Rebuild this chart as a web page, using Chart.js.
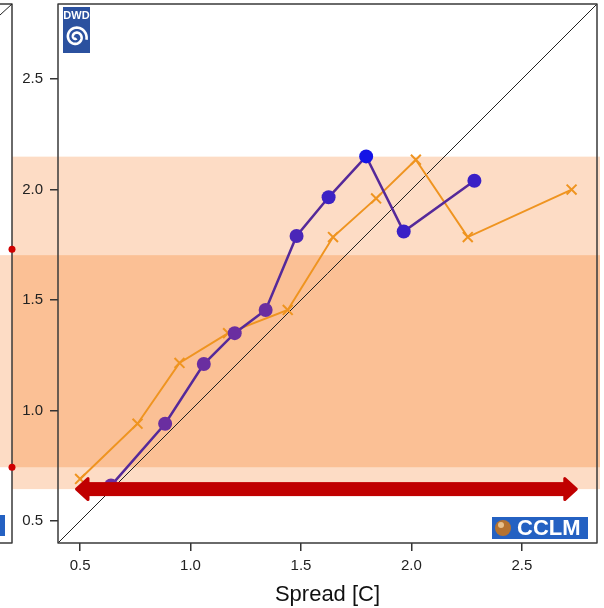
<!DOCTYPE html>
<html>
<head>
<meta charset="utf-8">
<script src="https://cdn.jsdelivr.net/npm/chart.js@4"></script>
<style>
html, body { margin: 0; padding: 0; background: #fff; }
#wrap { width: 604px; height: 608px; }
</style>
</head>
<body>
<div id="wrap"><canvas id="chart" width="604" height="608"></canvas></div>
<script>
// tick values
const xTicks = [0.5, 1.0, 1.5, 2.0, 2.5];
const yTicks = [0.5, 1.0, 1.5, 2.0, 2.5];
const axisRange = [0.4, 2.84];

// ensemble: spread vs error (circles)
const cclmSpread = [0.64, 0.885, 1.06, 1.20, 1.34, 1.48, 1.625, 1.795, 1.965, 2.285];
const cclmError  = [0.66, 0.94, 1.21, 1.35, 1.455, 1.79, 1.965, 2.15, 1.81, 2.04];

// second ensemble (crosses)
const refSpread = [0.50, 0.76, 0.95, 1.17, 1.44, 1.645, 1.84, 2.02, 2.255, 2.725];
const refError  = [0.69, 0.94, 1.215, 1.35, 1.455, 1.785, 1.96, 2.135, 1.785, 2.0];

// shaded ranges, arrow and side panel markers
const outerBand = [0.644, 2.149];
const innerBand = [0.743, 1.703];
const arrowRange = [0.477, 2.753];
const arrowLevel = 0.644;
const sideDots = [1.73, 0.743];

const pointColors = ['#6a2ea0', '#6a2ea0', '#6a2ea0', '#6a2ea0', '#6a2ea0',
                     '#4a26b8', '#3c22c4', '#1414e6', '#3a20c6', '#3a20c6'];

const toPoints = (xs, ys) => xs.map((x, i) => ({ x: x, y: ys[i] }));

const decor = {
    id: 'decor',
    beforeDraw(chart) {
        const { ctx, chartArea: a, scales: { y } } = chart;
        const panelRight = a.left - 46;
        ctx.save();
        // left panel band
        let t = y.getPixelForValue(innerBand[1]), b = y.getPixelForValue(innerBand[0]);
        ctx.fillStyle = '#fddcc5';
        ctx.fillRect(0, t, panelRight, b - t);
        // main bands
        t = y.getPixelForValue(outerBand[1]); b = y.getPixelForValue(outerBand[0]);
        ctx.fillStyle = '#fddcc5';
        ctx.fillRect(panelRight, t, a.right + 3 - panelRight, b - t);
        t = y.getPixelForValue(innerBand[1]); b = y.getPixelForValue(innerBand[0]);
        ctx.fillStyle = '#fbc095';
        ctx.fillRect(panelRight, t, a.right + 3 - panelRight, b - t);
        ctx.restore();
    },
    afterDatasetsDraw(chart) {
        const { ctx, chartArea: a, scales: { x, y } } = chart;
        const panelRight = a.left - 46;
        ctx.save();

        // red double arrow
        const xl = x.getPixelForValue(arrowRange[0]);
        const xr = x.getPixelForValue(arrowRange[1]);
        const yc = y.getPixelForValue(arrowLevel);
        ctx.fillStyle = '#c00000';
        ctx.fillRect(xl + 10, yc - 7, xr - xl - 20, 14);
        ctx.lineJoin = 'round';
        ctx.strokeStyle = '#c00000';
        ctx.lineWidth = 3;
        ctx.beginPath();
        ctx.moveTo(xl + 1.5, yc);
        ctx.lineTo(xl + 13, yc - 10.5);
        ctx.lineTo(xl + 13, yc + 10.5);
        ctx.closePath();
        ctx.moveTo(xr - 1.5, yc);
        ctx.lineTo(xr - 13, yc - 10.5);
        ctx.lineTo(xr - 13, yc + 10.5);
        ctx.closePath();
        ctx.fill();
        ctx.stroke();

        // frame of main plot
        ctx.strokeStyle = '#3a3a3a';
        ctx.lineWidth = 1.5;
        ctx.strokeRect(a.left, a.top, a.right - a.left, a.bottom - a.top);

        // left panel edge
        ctx.beginPath();
        ctx.moveTo(0, a.top);
        ctx.lineTo(panelRight, a.top);
        ctx.lineTo(panelRight, a.bottom);
        ctx.lineTo(0, a.bottom);
        ctx.stroke();
        ctx.strokeStyle = '#222';
        ctx.lineWidth = 1;
        ctx.beginPath();
        ctx.moveTo(0, a.top + 11);
        ctx.lineTo(panelRight, a.top);
        ctx.stroke();

        // red markers on the left panel
        ctx.fillStyle = '#d00000';
        sideDots.forEach(v => {
            ctx.beginPath();
            ctx.arc(panelRight, y.getPixelForValue(v), 3.5, 0, Math.PI * 2);
            ctx.fill();
        });

        // piece of logo in the left panel
        ctx.fillStyle = '#2461c2';
        ctx.fillRect(0, a.bottom - 28, 5, 21);

        // DWD logo
        const lx = a.left + 5, ly = a.top + 3;
        ctx.fillStyle = '#2b519f';
        ctx.fillRect(lx, ly, 27, 46);
        ctx.fillStyle = '#fff';
        ctx.font = 'bold 11px "Liberation Sans", Arial, sans-serif';
        ctx.textAlign = 'center';
        ctx.textBaseline = 'middle';
        ctx.fillText('DWD', lx + 13.5, ly + 9);
        ctx.strokeStyle = '#fff';
        ctx.lineWidth = 2.6;
        ctx.beginPath();
        const cx = lx + 13, cy = ly + 30;
        for (let k = 0; k <= 80; k++) {
            const th = k / 80 * Math.PI * 3.7;
            const r = 1.5 + th * 0.8;
            const px = cx + r * Math.cos(th + 1.2), py = cy + r * Math.sin(th + 1.2);
            if (k === 0) ctx.moveTo(px, py); else ctx.lineTo(px, py);
        }
        ctx.stroke();

        // CCLM logo
        const gx = a.right - 105, gy = a.bottom - 26;
        ctx.fillStyle = '#2461c2';
        ctx.fillRect(gx, gy, 96, 22);
        ctx.fillStyle = '#b5722f';
        ctx.beginPath();
        ctx.arc(gx + 11, gy + 11, 8, 0, Math.PI * 2);
        ctx.fill();
        ctx.fillStyle = '#e8c08a';
        ctx.beginPath();
        ctx.arc(gx + 9, gy + 8, 3, 0, Math.PI * 2);
        ctx.fill();
        ctx.fillStyle = '#fff';
        ctx.font = 'bold 22px "Liberation Sans", Arial, sans-serif';
        ctx.textAlign = 'left';
        ctx.fillText('CCLM', gx + 25, gy + 12);
        ctx.restore();
    }
};

const tickFont = { family: '"Liberation Sans", Arial, sans-serif', size: 15 };

new Chart(document.getElementById('chart').getContext('2d'), {
    type: 'scatter',
    data: {
        datasets: [
            {
                data: toPoints(cclmSpread, cclmError),
                showLine: true,
                borderColor: '#55299a',
                borderWidth: 2.5,
                backgroundColor: pointColors,
                pointBorderColor: pointColors,
                pointRadius: 7,
                pointBorderWidth: 0,
                order: 0
            },
            {
                data: toPoints(refSpread, refError),
                showLine: true,
                borderColor: '#ef9420',
                borderWidth: 2,
                pointStyle: 'crossRot',
                pointRadius: 7,
                pointBorderWidth: 2,
                pointBorderColor: '#ef9420',
                order: 1
            },
            {
                data: [{ x: axisRange[0], y: axisRange[0] }, { x: axisRange[1], y: axisRange[1] }],
                showLine: true,
                borderColor: '#222',
                borderWidth: 1,
                pointRadius: 0,
                order: 2
            }
        ]
    },
    options: {
        responsive: false,
        animation: false,
        layout: { autoPadding: false, padding: { left: 0, top: 4, right: 7, bottom: 0 } },
        plugins: { legend: { display: false }, tooltip: { enabled: false } },
        scales: {
            x: {
                type: 'linear',
                min: axisRange[0],
                max: axisRange[1],
                afterBuildTicks: s => { s.ticks = xTicks.map(v => ({ value: v })); },
                afterFit: s => { s.height = 65; s.paddingLeft = 0; s.paddingRight = 0; },
                border: { display: false },
                grid: { drawOnChartArea: false, drawTicks: true, tickLength: 8, color: '#333', lineWidth: 1.5 },
                ticks: { font: tickFont, color: '#222', padding: 6, maxRotation: 0, callback: v => v.toFixed(1) },
                title: {
                    display: true,
                    text: 'Spread [C]',
                    color: '#111',
                    font: { family: '"Liberation Sans", Arial, sans-serif', size: 22 },
                    padding: { top: 2, bottom: 0 }
                }
            },
            y: {
                type: 'linear',
                min: axisRange[0],
                max: axisRange[1],
                afterBuildTicks: s => { s.ticks = yTicks.map(v => ({ value: v })); },
                afterFit: s => { s.width = 58; s.paddingTop = 0; s.paddingBottom = 0; },
                border: { display: false },
                grid: { drawOnChartArea: false, drawTicks: true, tickLength: 8, color: '#333', lineWidth: 1.5 },
                ticks: { font: tickFont, color: '#222', padding: 7, callback: v => v.toFixed(1) }
            }
        }
    },
    plugins: [decor]
});
</script>
</body>
</html>
